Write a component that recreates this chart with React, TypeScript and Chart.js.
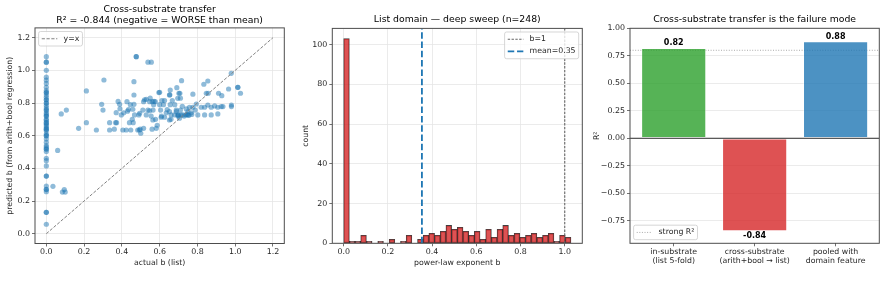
import React, { useEffect, useRef } from "react";
import { Chart, registerables } from "chart.js";
Chart.register(...registerables);

const FONT = "'DejaVu Sans', 'Liberation Sans', sans-serif";
const TICK_FONT = { family: FONT, size: 7.9 };
const LABEL_FONT = { family: FONT, size: 7.8 };
const TITLE_FONT = { family: FONT, size: 9.3, weight: "normal" as const, lineHeight: 1.15 };
const TEXT = "#262626";
const GRID = "#e6e6e6";
const SPINE = "#4d4d4d";

// ---------- Panel 1: cross-substrate scatter ----------
const scatterR2 = -0.844;
const zeroActualPredicted = [1.084, 1.05, 1.05, 1.0, 0.958, 0.94, 0.92, 0.896, 0.876, 0.864, 0.864, 0.849, 0.835, 0.82, 0.82, 0.8, 0.8, 0.785, 0.77, 0.76, 0.754, 0.74, 0.73, 0.72, 0.72, 0.7, 0.695, 0.68, 0.68, 0.67, 0.66, 0.65, 0.64, 0.64, 0.63, 0.61, 0.6, 0.6, 0.58, 0.56, 0.54, 0.53, 0.52, 0.517, 0.503, 0.462, 0.447, 0.415, 0.353, 0.353, 0.292, 0.272, 0.27, 0.257, 0.131, 0.131, 0.058];
const scatterActual = [0.035,0.06,0.085,0.095,0.1,0.079,0.106,0.171,0.212,0.212,0.265,0.293,0.3,0.305,0.335,0.335,0.367,0.372,0.37,0.388,0.39,0.397,0.405,0.423,0.427,0.445,0.44,0.447,0.458,0.464,0.464,0.464,0.467,0.476,0.476,0.484,0.493,0.49,0.5,0.511,0.515,0.515,0.529,0.529,0.538,0.556,0.538,0.547,0.555,0.561,0.565,0.568,0.577,0.578,0.582,0.587,0.596,0.6,0.605,0.61,0.612,0.626,0.635,0.652,0.656,0.661,0.667,0.656,0.66,0.688,0.698,0.7,0.707,0.71,0.716,0.71,0.834,0.855,0.979,0.965,1.014,1.014,1.028,0.98,0.98,0.776,0.691,0.702,0.654,0.6,0.696,0.847,0.857,0.912,0.929,0.855,0.873,0.891,0.908,0.926,0.935,0.838,0.82,0.794,0.788,0.776,0.802,0.838,0.873,0.908,0.741,0.758,0.75,0.723,0.714,0.696,0.705,0.679,0.74,0.75,0.767,0.688,0.652,0.652,0.608,0.626,0.564,0.547,0.494,0.497,0.56,0.52,0.55,0.57,0.745,0.755,0.73,0.77,0.64,0.62,0.68,0.72,0.435,0.41,0.38,0.36,0.43,0.455,0.46];
const scatterPredicted = [0.29,0.51,0.255,0.27,0.255,0.733,0.757,0.645,0.874,0.68,0.635,0.792,0.757,0.941,0.68,0.635,0.68,0.68,0.741,0.792,0.765,0.727,0.635,0.635,0.808,0.79,0.68,0.635,0.762,0.931,0.849,0.792,0.727,1.084,1.084,0.635,0.635,0.727,0.615,0.757,0.808,0.645,0.823,0.727,1.05,1.05,0.757,0.808,0.72,0.808,0.757,0.79,0.808,0.7,0.645,0.664,0.864,0.79,0.757,0.72,0.815,0.815,0.74,0.849,0.879,0.727,0.815,0.79,0.7,0.747,0.72,0.727,0.86,0.83,0.937,0.757,0.915,0.935,0.982,0.886,0.896,0.896,0.86,0.788,0.778,0.854,0.894,0.86,0.85,0.866,0.829,0.86,0.86,0.86,0.845,0.788,0.774,0.782,0.774,0.778,0.778,0.774,0.774,0.794,0.757,0.774,0.727,0.727,0.727,0.733,0.764,0.774,0.747,0.727,0.727,0.727,0.707,0.727,0.727,0.727,0.74,0.757,0.747,0.696,0.713,0.713,0.696,0.752,0.737,0.64,0.64,0.82,0.83,0.81,0.73,0.725,0.72,0.73,0.76,0.79,0.79,0.78,0.76,0.74,0.81,0.64,0.75,0.7,0.68];
const identityLine = [0, 1.2];
const scatterTicks = [0, 0.2, 0.4, 0.6, 0.8, 1.0, 1.2];
const scatterLimits = [-0.06, 1.26];

// ---------- Panel 2: histogram ----------
const histN = 248;
const histMaxB = 1.028;
const histCounts = [103, 1, 1, 4, 1, 0, 1, 0, 2, 0, 1, 4, 0, 2, 4, 5, 4, 6, 9, 7, 8, 6, 4, 6, 2, 7, 3, 7, 9, 4, 5, 3, 4, 5, 3, 4, 5, 1, 4, 3];
const histMeanB = 0.354;
const histRefB = 1.0;
const histXTicks = [0, 0.2, 0.4, 0.6, 0.8, 1.0];
const histYTicks = [0, 20, 40, 60, 80, 100];
const histXLimits = [-0.0514, 1.0794];
const histYLimits = [0, 108.15];

// ---------- Panel 3: R² bars ----------
const barCategories = [["in-substrate", "(list 5-fold)"], ["cross-substrate", "(arith+bool \u2192 list)"], ["pooled with", "domain feature"]];
const barR2 = [0.82, -0.844, 0.88];
const barColors = ["rgba(44,160,44,0.8)", "rgba(214,39,40,0.8)", "rgba(31,119,180,0.8)"];
const strongR2 = 0.8;
const barYTicks = [-0.75, -0.5, -0.25, 0, 0.25, 0.5, 0.75, 1.0];
const barXLimits = [-0.54, 2.54];
const barYLimits = [-0.955, 1.0];

// ---------- plugins ----------
const framePlugin = {
  id: "frame",
  afterDatasetsDraw(chart: any) {
    const { ctx, chartArea: a } = chart;
    ctx.save();
    ctx.strokeStyle = SPINE;
    ctx.lineWidth = 1;
    ctx.strokeRect(a.left, a.top, a.right - a.left, a.bottom - a.top);
    ctx.restore();
  },
};

const legendPlugin = {
  id: "mplLegend",
  afterDraw(chart: any, _args: any, opts: any) {
    if (!opts || !opts.labels) return;
    const { ctx, chartArea: a } = chart;
    const items = opts.labels
      .map((l: string) => chart.data.datasets.find((d: any) => d.label === l))
      .filter(Boolean);
    const fs = 7.8;
    const pad = 0.4 * fs, handle = 2 * fs, gap = 0.8 * fs, rowH = 8.3, spacing = 0.5 * fs, m = 3.6;
    ctx.save();
    ctx.font = `${fs}px ${FONT}`;
    const tw = Math.max(...items.map((d: any) => ctx.measureText(d.label).width));
    const w = 2 * pad + handle + gap + tw;
    const h = 2 * pad + items.length * rowH + (items.length - 1) * spacing;
    const x = opts.loc.includes("left") ? a.left + m : a.right - m - w;
    const y = opts.loc.includes("upper") ? a.top + m : a.bottom - m - h;
    ctx.beginPath();
    if (ctx.roundRect) ctx.roundRect(x, y, w, h, 2);
    else ctx.rect(x, y, w, h);
    ctx.fillStyle = "rgba(255,255,255,0.8)";
    ctx.fill();
    ctx.strokeStyle = "#cccccc";
    ctx.lineWidth = 0.8;
    ctx.stroke();
    items.forEach((d: any, i: number) => {
      const cy = y + pad + rowH / 2 + i * (rowH + spacing);
      ctx.beginPath();
      ctx.setLineDash(d.borderDash || []);
      ctx.strokeStyle = d.borderColor;
      ctx.lineWidth = d.borderWidth;
      ctx.moveTo(x + pad, cy);
      ctx.lineTo(x + pad + handle, cy);
      ctx.stroke();
      ctx.setLineDash([]);
      ctx.fillStyle = TEXT;
      ctx.textBaseline = "middle";
      ctx.textAlign = "left";
      ctx.fillText(d.label, x + pad + handle + gap, cy);
    });
    ctx.restore();
  },
};

const barValuePlugin = {
  id: "barValues",
  afterDraw(chart: any, _args: any, opts: any) {
    if (!opts || !opts.display) return;
    const { ctx, scales } = chart;
    ctx.save();
    ctx.font = `bold 8px ${FONT}`;
    ctx.fillStyle = "#000";
    ctx.textAlign = "center";
    ctx.textBaseline = "middle";
    barR2.forEach((v, i) => {
      const px = scales.x.getPixelForValue(i);
      const py = scales.y.getPixelForValue(v) + (v >= 0 ? -5 : 4.8);
      ctx.fillText(v.toFixed(2), px, py);
    });
    ctx.restore();
  },
};

// ---------- axis helpers ----------
function axis(o: any) {
  return {
    type: "linear",
    min: o.limits[0],
    max: o.limits[1],
    offset: false,
    afterBuildTicks: (s: any) => {
      s.ticks = o.ticks.map((v: number) => ({ value: v }));
    },
    afterFit: (s: any) => {
      if (o.width !== undefined) s.width = o.width;
      if (o.height !== undefined) s.height = o.height;
    },
    ticks: {
      callback: o.fmt,
      font: o.tickFont || TICK_FONT,
      color: TEXT,
      padding: o.tickPad ?? 2,
      autoSkip: false,
      maxRotation: 0,
      minRotation: 0,
    },
    grid: {
      display: true,
      drawOnChartArea: o.grid !== false,
      color: GRID,
      lineWidth: 0.8,
      tickColor: SPINE,
      tickLength: 3,
      tickWidth: 0.8,
      offset: false,
    },
    border: { display: false },
    title: o.title
      ? { display: true, text: o.title, font: LABEL_FONT, color: TEXT, padding: o.titlePad }
      : { display: false },
  };
}

const fmt1 = (v: any) => Number(v).toFixed(1);
const fmtInt = (v: any) => String(Math.round(Number(v)));
const fmt2 = (v: any) => {
  const n = Number(v);
  return n < 0 ? "\u2212" + Math.abs(n).toFixed(2) : n.toFixed(2);
};

function baseOptions(title: any, titlePad: any, padRight: number) {
  return {
    responsive: false,
    animation: false,
    devicePixelRatio: 1,
    events: [],
    layout: { padding: { left: 0, right: padRight, top: 0, bottom: 0 } },
    plugins: {
      legend: { display: false },
      tooltip: { enabled: false },
      title: {
        display: true,
        text: title,
        fullSize: false,
        font: TITLE_FONT,
        color: "#000",
        padding: titlePad,
      },
    },
  };
}

function scatterConfig(): any {
  const zeroPts = zeroActualPredicted.map((y) => ({ x: 0, y }));
  const n = Math.min(scatterActual.length, scatterPredicted.length);
  const pts = scatterActual.slice(0, n).map((x, i) => ({ x, y: scatterPredicted[i] }));
  const opts: any = baseOptions(
    ["Cross-substrate transfer", `R\u00b2 = ${scatterR2.toFixed(3)} (negative = WORSE than mean)`],
    { top: 4.6, bottom: 1.9 },
    10.7
  );
  opts.plugins.mplLegend = { labels: ["y=x"], loc: "upper left" };
  opts.scales = {
    x: axis({ limits: scatterLimits, ticks: scatterTicks, fmt: fmt1, height: 54.5, tickPad: 1, title: "actual b (list)", titlePad: { top: 0, bottom: 30.3 } }),
    y: axis({ limits: scatterLimits, ticks: scatterTicks, fmt: fmt1, width: 35, title: "predicted b (from arith+bool regression)", titlePad: { top: 5.3, bottom: 0 } }),
  };
  return {
    type: "scatter",
    data: {
      datasets: [
        {
          label: "points",
          data: [...zeroPts, ...pts],
          backgroundColor: "rgba(31,119,180,0.5)",
          borderWidth: 0,
          pointRadius: 2.6,
          order: 2,
        },
        {
          label: "y=x",
          data: identityLine.map((v) => ({ x: v, y: v })),
          showLine: true,
          borderColor: "#808080",
          borderWidth: 1,
          borderDash: [3.2, 1.6],
          pointRadius: 0,
          order: 1,
        },
      ],
    },
    options: opts,
    plugins: [framePlugin, legendPlugin],
  };
}

function histConfig(): any {
  const binW = histMaxB / histCounts.length;
  const opts: any = baseOptions(`List domain \u2014 deep sweep (n=${histN})`, { top: 14.6, bottom: 3.1 }, 7.7);
  opts.plugins.mplLegend = { labels: ["b=1", `mean=${histMeanB.toFixed(2)}`], loc: "upper right" };
  opts.scales = {
    x: axis({ limits: histXLimits, ticks: histXTicks, fmt: fmt1, height: 54.7, tickPad: 1, title: "power-law exponent b", titlePad: { top: 0, bottom: 30.3 } }),
    y: axis({ limits: histYLimits, ticks: histYTicks, fmt: fmtInt, width: 37.3, title: "count", titlePad: { top: 6.3, bottom: 0 } }),
  };
  return {
    type: "bar",
    data: {
      datasets: [
        {
          type: "bar",
          label: "hist",
          data: histCounts.map((c, i) => ({ x: (i + 0.5) * binW, y: c })),
          backgroundColor: "rgba(214,39,40,0.8)",
          borderColor: "rgba(0,0,0,0.75)",
          borderWidth: 0.8,
          borderSkipped: false,
          barPercentage: 1,
          categoryPercentage: 1,
          order: 3,
        },
        {
          type: "line",
          label: "b=1",
          data: [{ x: histRefB, y: histYLimits[0] }, { x: histRefB, y: histYLimits[1] }],
          borderColor: "#666666",
          borderWidth: 1.1,
          borderDash: [2.4, 1.4],
          pointRadius: 0,
          order: 2,
        },
        {
          type: "line",
          label: `mean=${histMeanB.toFixed(2)}`,
          data: [{ x: histMeanB, y: histYLimits[0] }, { x: histMeanB, y: histYLimits[1] }],
          borderColor: "#1f77b4",
          borderWidth: 1.8,
          borderDash: [6.5, 2.8],
          pointRadius: 0,
          order: 1,
        },
      ],
    },
    options: opts,
    plugins: [framePlugin, legendPlugin],
  };
}

function barConfig(): any {
  const opts: any = baseOptions("Cross-substrate transfer is the failure mode", { top: 14.6, bottom: 3.0 }, 7.7);
  opts.plugins.mplLegend = { labels: ["strong R\u00b2"], loc: "lower left" };
  opts.plugins.barValues = { display: true };
  opts.scales = {
    x: axis({
      limits: barXLimits,
      ticks: barCategories.map((_, i) => i),
      fmt: (v: any) => barCategories[Math.round(Number(v))],
      height: 54.7,
      tickPad: 1.3,
      grid: false,
      tickFont: { family: FONT, size: 7.8, lineHeight: 1.12 },
    }),
    y: axis({ limits: barYLimits, ticks: barYTicks, fmt: fmt2, width: 40, title: "R\u00b2", titlePad: { top: 2, bottom: 0 } }),
  };
  return {
    type: "bar",
    data: {
      datasets: [
        {
          type: "line",
          label: "strong R\u00b2",
          data: barXLimits.map((x) => ({ x, y: strongR2 })),
          borderColor: "#a0a0a0",
          borderWidth: 0.9,
          borderDash: [1, 1.6],
          pointRadius: 0,
          order: 4,
        },
        {
          type: "bar",
          label: "R2",
          data: barR2.map((v, i) => ({ x: i, y: v })),
          backgroundColor: barColors,
          borderColor: "rgba(255,255,255,0.6)",
          borderWidth: 0.8,
          borderSkipped: false,
          barPercentage: 1,
          categoryPercentage: 0.8,
          order: 3,
        },
        {
          type: "line",
          label: "zero",
          data: barXLimits.map((x) => ({ x, y: 0 })),
          borderColor: "#1a1a1a",
          borderWidth: 0.9,
          pointRadius: 0,
          order: 1,
        },
      ],
    },
    options: opts,
    plugins: [framePlugin, legendPlugin, barValuePlugin],
  };
}

function Panel({ left, width, make }: { left: number; width: number; make: () => any }) {
  const ref = useRef<HTMLCanvasElement>(null);
  useEffect(() => {
    const chart = new Chart(ref.current as HTMLCanvasElement, make());
    return () => chart.destroy();
  }, []);
  return (
    <canvas
      ref={ref}
      width={width}
      height={298}
      style={{ position: "absolute", left, top: 0, width, height: 298 }}
    />
  );
}

export default function App() {
  return (
    <div style={{ position: "absolute", left: 0, top: 0, width: 887, height: 298, background: "#fff", overflow: "hidden" }}>
      <Panel left={0} width={295} make={scatterConfig} />
      <Panel left={295} width={295} make={histConfig} />
      <Panel left={590} width={297} make={barConfig} />
    </div>
  );
}
